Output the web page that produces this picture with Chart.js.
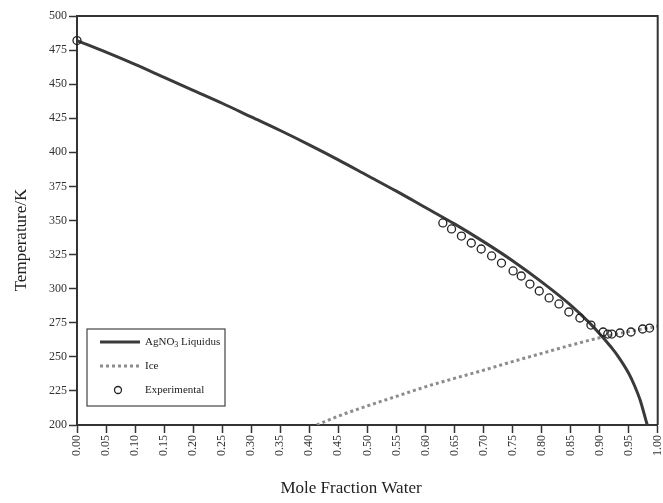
<!DOCTYPE html>
<html>
<head>
<meta charset="utf-8">
<script src="https://cdn.jsdelivr.net/npm/chart.js@4.4.1/dist/chart.umd.min.js"></script>
<style>
  html, body { margin: 0; padding: 0; background: #fff; }
  #wrap { width: 663px; height: 503px; }
</style>
</head>
<body>
<div id="wrap"><canvas id="grafico"></canvas></div>
<script>
// curva do liquidus (AgNO3)
const liquidusX = [0.00, 0.05, 0.10, 0.15, 0.20, 0.25, 0.30, 0.35, 0.40, 0.45, 0.50, 0.55, 0.60, 0.65, 0.70, 0.75, 0.80, 0.85, 0.88, 0.90, 0.92, 0.93, 0.95, 0.96, 0.97, 0.98, 0.982];
const liquidusT = [482, 473.5, 464.5, 455, 445.5, 436, 426, 416, 405.5, 394.5, 383, 371.5, 359.5, 347.5, 334.5, 320.5, 305, 288, 276, 267, 257, 251.5, 238, 229, 218, 203, 200];

// curva do gelo
const iceX = [0.413, 0.45, 0.50, 0.55, 0.60, 0.65, 0.70, 0.75, 0.80, 0.85, 0.90, 0.95, 1.00];
const iceT = [200, 206.5, 214, 221, 228, 234.2, 240.2, 246.5, 252.5, 258.5, 264, 268.5, 272.5];

// pontos experimentais
const expX = [0.000, 0.630, 0.645, 0.662, 0.679, 0.696, 0.714, 0.731, 0.751, 0.765, 0.780, 0.796, 0.813, 0.830, 0.847, 0.866, 0.885, 0.906, 0.914, 0.921, 0.935, 0.954, 0.974, 0.986];
const expT = [482, 348.2, 343.8, 338.6, 333.5, 329.1, 324.0, 318.8, 313.0, 309.3, 303.4, 298.3, 293.2, 288.8, 282.9, 278.5, 273.3, 268.2, 266.7, 266.7, 267.5, 268.2, 270.4, 271.1];

const xTickStep = 0.05;
const yTickStep = 25;

const FONTE = '"Liberation Serif", "Times New Roman", serif';
const COR_EIXO = '#333333';

function pares(xs, ys) {
    return xs.map((x, i) => ({ x: x, y: ys[i] }));
}

// moldura + títulos + legenda desenhados à mão
const pluginExtras = {
    id: 'extras',
    afterDraw(chart) {
        const ctx = chart.ctx;
        const area = chart.chartArea;
        ctx.save();

        // moldura (topo e direita)
        ctx.strokeStyle = COR_EIXO;
        ctx.lineWidth = 2;
        ctx.beginPath();
        ctx.moveTo(area.left, area.top);
        ctx.lineTo(area.right, area.top);
        ctx.lineTo(area.right, area.bottom);
        ctx.stroke();

        // títulos dos eixos
        ctx.fillStyle = '#222';
        ctx.font = '17px ' + FONTE;
        ctx.textAlign = 'center';
        ctx.textBaseline = 'middle';
        ctx.fillText('Mole Fraction Water', 351, 489);
        ctx.save();
        ctx.translate(22, 240);
        ctx.rotate(-Math.PI / 2);
        ctx.fillText('Temperature/K', 0, 0);
        ctx.restore();

        // legenda
        const bx = area.left + 10, by = area.bottom - 96;
        const bw = 138, bh = 77;
        ctx.fillStyle = '#fff';
        ctx.fillRect(bx, by, bw, bh);
        ctx.strokeStyle = '#444';
        ctx.lineWidth = 1.2;
        ctx.strokeRect(bx, by, bw, bh);

        const ds = chart.data.datasets;
        const linhas = [by + 13, by + 37, by + 61];
        ctx.font = '11px ' + FONTE;
        ctx.textAlign = 'left';
        ctx.fillStyle = '#222';
        ds.forEach((d, i) => {
            const y = linhas[i];
            if (d.showLine) {
                ctx.strokeStyle = d.borderColor;
                ctx.lineWidth = d.borderWidth;
                ctx.setLineDash(d.borderDash || []);
                ctx.beginPath();
                ctx.moveTo(bx + 13, y);
                ctx.lineTo(bx + 53, y);
                ctx.stroke();
                ctx.setLineDash([]);
            } else {
                ctx.strokeStyle = d.pointBorderColor;
                ctx.lineWidth = d.pointBorderWidth;
                ctx.beginPath();
                ctx.arc(bx + 31, y, 3.5, 0, Math.PI * 2);
                ctx.stroke();
            }
            // subscrito para o "3" de AgNO3
            const tx = bx + 58;
            const m = d.label.match(/^(.*NO)(\d)(.*)$/);
            if (m) {
                ctx.fillText(m[1], tx, y);
                let w = ctx.measureText(m[1]).width;
                ctx.font = '8px ' + FONTE;
                ctx.fillText(m[2], tx + w, y + 3);
                w += ctx.measureText(m[2]).width;
                ctx.font = '11px ' + FONTE;
                ctx.fillText(m[3], tx + w, y);
            } else {
                ctx.fillText(d.label, tx, y);
            }
        });
        ctx.restore();
    }
};

new Chart(document.getElementById('grafico'), {
    type: 'scatter',
    data: {
        datasets: [
            {
                label: 'AgNO3 Liquidus',
                data: pares(liquidusX, liquidusT),
                showLine: true,
                borderColor: '#3a3a3a',
                borderWidth: 3,
                pointRadius: 0,
                cubicInterpolationMode: 'monotone',
                order: 2
            },
            {
                label: 'Ice',
                data: pares(iceX, iceT),
                showLine: true,
                borderColor: '#8c8c8c',
                borderWidth: 3,
                borderDash: [3, 3],
                pointRadius: 0,
                cubicInterpolationMode: 'monotone',
                order: 3
            },
            {
                label: 'Experimental',
                data: pares(expX, expT),
                showLine: false,
                pointRadius: 4,
                pointBorderWidth: 1.3,
                pointBorderColor: '#222',
                pointBackgroundColor: 'rgba(0,0,0,0)',
                clip: false,
                order: 1
            }
        ]
    },
    options: {
        responsive: true,
        maintainAspectRatio: false,
        animation: false,
        layout: { padding: { left: 0, top: 16, right: 2, bottom: 0 } },
        plugins: {
            legend: { display: false },
            tooltip: { enabled: false }
        },
        scales: {
            x: {
                type: 'linear',
                min: 0,
                max: 1,
                afterFit: (s) => {
                    s.height = 78;
                    s.paddingLeft = 0;
                    s.paddingRight = 0;
                },
                afterBuildTicks: (s) => {
                    const t = [];
                    for (let i = 0; i <= 20; i++) t.push({ value: +(i * xTickStep).toFixed(2) });
                    s.ticks = t;
                },
                ticks: {
                    autoSkip: false,
                    minRotation: 90,
                    maxRotation: 90,
                    padding: 2,
                    color: '#333',
                    font: { family: FONTE, size: 12 },
                    callback: (v) => v.toFixed(2)
                },
                grid: {
                    drawOnChartArea: false,
                    tickLength: 8,
                    tickColor: COR_EIXO,
                    tickWidth: 1.5
                },
                border: { color: COR_EIXO, width: 2 }
            },
            y: {
                type: 'linear',
                min: 200,
                max: 500,
                afterFit: (s) => {
                    s.width = 77;
                    s.paddingTop = 0;
                    s.paddingBottom = 0;
                },
                ticks: {
                    stepSize: yTickStep,
                    padding: 2,
                    color: '#333',
                    font: { family: FONTE, size: 12 }
                },
                grid: {
                    drawOnChartArea: false,
                    tickLength: 8,
                    tickColor: COR_EIXO,
                    tickWidth: 1.5
                },
                border: { color: COR_EIXO, width: 2 }
            }
        }
    },
    plugins: [pluginExtras]
});
</script>
</body>
</html>
